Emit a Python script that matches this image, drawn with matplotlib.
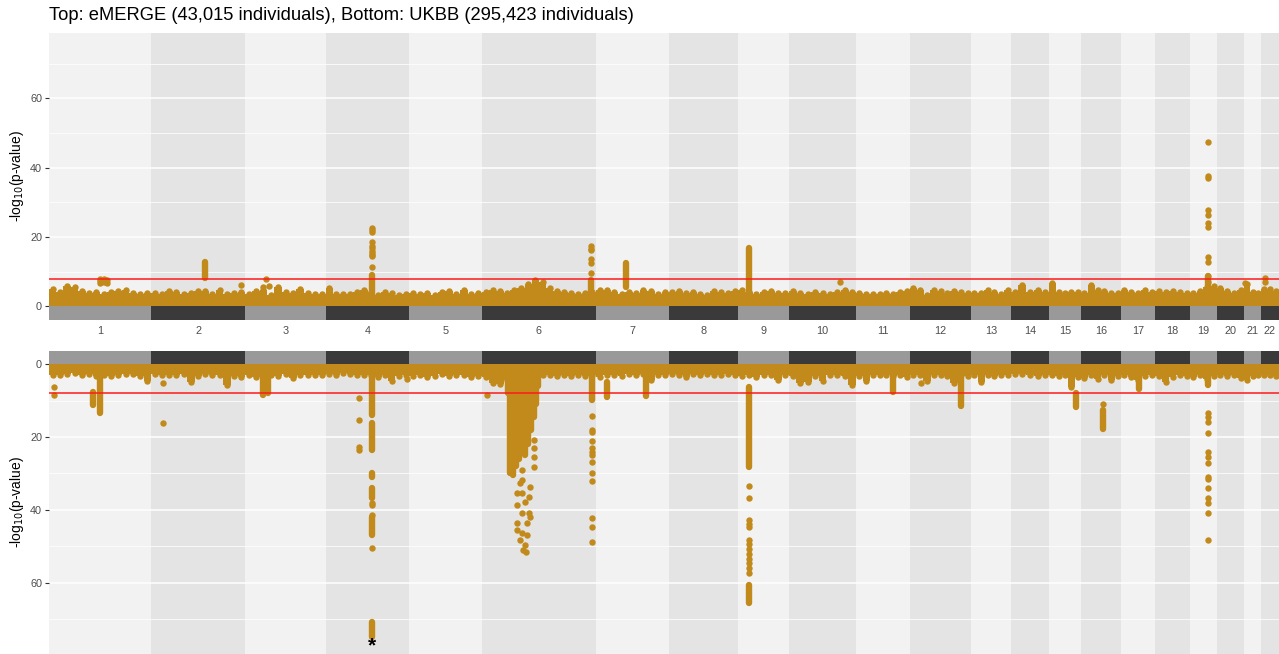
import numpy as np
import matplotlib.pyplot as plt

plt.rcParams['font.family'] = ['Liberation Sans', 'DejaVu Sans']

GOLD = '#C18A1B'
DOT = 4.6          # marker diameter in points
THRESH = 8

chroms = [str(i) for i in range(1, 23)]
# plotted width of each chromosome (number of variants, thousands)
chrom_size = [102, 94, 81, 83, 73, 114, 73, 69, 51, 67, 54, 61,
              40, 38, 32, 40, 34, 35, 27, 27, 17, 18]

# upper edge of the dense background of variants, sampled along each chromosome
emerge_floor = [
    [5.0, 4.0, 5.8, 5.6, 4.5, 3.8, 4.2, 3.6, 4.0, 4.4, 4.6, 3.9, 3.6, 3.8],
    [3.8, 3.6, 4.3, 4.2, 3.5, 3.8, 4.4, 4.3, 3.6, 4.8, 3.6, 3.8, 4.1],
    [3.6, 4.3, 4.8, 3.4, 5.5, 4.2, 3.8, 5.0, 3.9, 3.7, 3.5],
    [5.2, 3.7, 3.6, 3.7, 4.2, 4.6, 4.0, 3.2, 4.2, 3.8, 3.4, 3.6],
    [3.9, 3.6, 3.8, 3.4, 4.0, 4.3, 3.5, 4.6, 3.6, 3.8],
    [4.2, 4.8, 4.4, 3.9, 4.6, 5.2, 6.4, 7.6, 7.0, 5.4, 4.3, 4.1, 3.8, 3.6, 3.8, 4.0],
    [4.6, 4.8, 4.0, 3.6, 4.2, 3.8, 4.6, 4.3, 3.7, 4.0],
    [4.0, 4.3, 3.8, 4.1, 3.6, 3.4, 4.3, 4.0, 3.8, 4.4],
    [4.6, 4.2, 3.6, 4.2, 4.4, 3.8, 3.9],
    [4.3, 3.8, 3.6, 4.2, 3.9, 3.7, 4.0, 4.6, 4.1],
    [3.9, 3.6, 3.7, 3.5, 3.8, 3.6, 4.0, 4.4],
    [5.2, 4.6, 3.4, 4.8, 4.3, 3.9, 4.5, 4.0, 3.8],
    [3.8, 3.9, 4.8, 4.2, 3.7, 4.6],
    [4.2, 6.2, 4.0, 4.8, 4.0],
    [6.6, 4.2, 3.8, 4.0, 4.1],
    [3.9, 6.1, 4.6, 4.3, 3.9, 3.8],
    [4.7, 4.2, 3.8, 4.6, 4.0],
    [4.3, 4.1, 4.5, 4.0, 3.9],
    [3.9, 4.3, 5.5, 5.8],
    [5.4, 4.4, 3.9, 4.6],
    [6.5, 4.1, 3.8],
    [4.9, 5.0, 4.4],
]

ukbb_floor = [
    [3.0, 2.8, 2.6, 2.4, 2.9, 2.7, 3.2, 2.9, 3.3, 2.8, 2.6, 2.7, 3.1, 4.5],
    [2.6, 2.9, 3.0, 2.8, 2.7, 4.8, 3.2, 2.7, 3.0, 2.8, 5.6, 3.1, 3.4],
    [3.0, 3.4, 4.0, 2.8, 3.2, 2.7, 3.8, 2.9, 2.8, 3.0, 2.9],
    [2.6, 2.8, 2.5, 2.7, 2.9, 3.0, 2.8, 3.4, 3.0, 4.6, 3.2, 2.9],
    [3.2, 2.8, 3.4, 3.3, 2.7, 3.1, 2.8, 3.0, 3.6, 3.1],
    [3.6, 5.0, 5.4, 4.2, 6.0, 6.0, 6.0, 6.0, 3.0, 2.8, 3.2, 2.9, 3.1, 2.8, 3.3, 3.0],
    [3.6, 3.0, 2.8, 3.1, 2.6, 3.0, 2.7, 4.3, 3.0, 2.8],
    [2.6, 2.8, 3.6, 2.7, 2.9, 2.6, 2.8, 3.0, 2.7, 2.9],
    [3.2, 3.0, 3.4, 2.9, 2.8, 4.2, 3.0],
    [3.1, 5.1, 4.9, 3.2, 4.5, 3.0, 2.8, 3.3, 5.7],
    [3.2, 4.6, 2.9, 3.0, 2.8, 3.2, 3.0, 3.4],
    [2.8, 3.0, 4.5, 2.8, 3.0, 3.1, 5.2, 2.9, 3.2],
    [3.0, 4.8, 2.9, 3.1, 2.8, 2.9],
    [2.7, 2.6, 2.9, 3.2, 2.9],
    [3.0, 3.3, 2.9, 6.1, 3.5],
    [3.8, 3.0, 4.0, 3.0, 4.2, 3.2],
    [3.0, 3.6, 4.2, 3.2, 3.0],
    [3.2, 4.8, 3.6, 3.0, 3.3],
    [3.5, 2.9, 4.0, 3.1],
    [3.0, 3.2, 2.9, 3.8],
    [4.2, 3.3, 3.0],
    [2.9, 3.0, 3.1],
]

# (chromosome, offset, lowest, highest) -- runs of adjacent significant variants
emerge_runs = [
    (2, 54, 8.3, 12.9),
    (4, 46, 0, 9.0),
    (6, 109, 0, 7.6),
    (7, 30, 5.5, 12.4),
    (9, 11, 0, 16.7),
    (19, 18, 0, 8.7),
]
# (chromosome, offset, [-log10 p of single variants])
emerge_hits = [
    (1, 51, [7.9, 7.4, 6.6]),
    (1, 55, [7.8, 7.0]),
    (1, 58, [7.6, 6.8]),
    (2, 90, [6.3]),
    (3, 18, [5.5]),
    (3, 21, [8.0]),
    (3, 24, [5.8]),
    (4, 46, [22.6, 22.1, 21.5, 18.6, 17.5, 16.7, 16.0, 15.5, 14.9, 14.5, 11.4]),
    (6, 109, [17.3, 16.6, 16.2, 13.6, 12.5, 9.7]),
    (10, 51, [6.9]),
    (19, 18, [47.5, 37.6, 37.0, 27.8, 26.3, 24.0, 23.0, 14.3, 12.9, 8.7, 7.1]),
    (21, 1, [6.8]),
    (22, 4, [8.1, 7.1]),
]

ukbb_runs = [
    (1, 44, 7.5, 11.2),
    (1, 51, 0, 13.5),
    (3, 18, 0, 8.4),
    (3, 23, 0, 8.0),
    (4, 46, 0, 13.9),
    (4, 46, 16.1, 23.5),
    (4, 46, 29.9, 31.0),
    (4, 46, 34.0, 36.8),
    (4, 46, 42.0, 46.9),
    (4, 46, 70.7, 74.8),
    # HLA region
    (6, 26, 0, 8.0),
    (6, 28, 0, 30.0),
    (6, 31, 0, 30.5),
    (6, 34, 0, 28.0),
    (6, 37, 0, 26.0),
    (6, 40, 0, 24.0),
    (6, 43, 0, 25.0),
    (6, 46, 0, 22.0),
    (6, 49, 0, 18.0),
    (6, 52, 0, 14.4),
    (6, 54, 0, 11.0),
    (6, 56, 0, 6.0),
    (6, 109.7, 0, 9.8),
    (7, 10.7, 4.8, 8.9),
    (7, 49.7, 0, 8.7),
    (9, 11, 6.1, 28.1),
    (9, 11, 60.6, 65.7),
    (11, 36.7, 0, 7.5),
    (12, 51, 0, 11.5),
    (15, 27, 7.8, 11.6),
    (16, 22.3, 12.5, 17.9),
    (17, 18.3, 0, 6.9),
    (19, 18.3, 0, 5.7),
]
ukbb_hits = [
    (1, 5, [6.3, 8.4]),
    (2, 11.7, [5.0, 16.0]),
    (4, 33, [9.2, 15.4, 22.6, 23.5]),
    (4, 46, [38.2, 38.7, 41.4, 50.6]),
    (4, 81, [4.1]),
    (6, 4.7, [8.4]),
    (6, 39.7, [29.0, 31.8, 35.4, 40.9, 46.4]),
    (6, 38, [32.7, 48.3]),
    (6, 34.7, [35.4, 38.7, 43.7, 45.5]),
    (6, 43, [37.7, 49.6]),
    (6, 41.3, [51.0]),
    (6, 44, [51.5]),
    (6, 44.7, [43.7, 46.9]),
    (6, 47.3, [40.9, 36.4]),
    (6, 48, [33.6, 41.9]),
    (6, 52, [20.8, 23.1, 25.4, 28.1]),
    (6, 109.7, [14.2, 18.0, 18.5, 21.0, 23.1, 24.0, 24.9, 26.8, 29.8, 32.0,
                42.3, 44.6, 48.9]),
    (9, 11, [33.4, 36.8, 42.8, 43.8, 44.6, 48.3, 49.5, 50.8, 52.2, 53.5,
             54.7, 56.0, 57.4]),
    (12, 11, [5.0]),
    (16, 22.3, [10.9]),
    (19, 18.3, [13.5, 14.4, 15.8, 18.8, 24.0, 25.4, 27.2, 30.9, 31.6, 34.1,
                36.8, 38.2, 40.8, 48.3]),
]
# chr4 lead signal is off the scale
ukbb_capped = [(4, 46, 77.3)]

starts = np.concatenate([[0], np.cumsum(chrom_size)[:-1]])
centers = starts + np.array(chrom_size) / 2
total = float(np.sum(chrom_size))


def draw_panel(ax, floor, runs, hits, ylim, bar_h):
    for i, w in enumerate(chrom_size):
        ax.axvspan(starts[i], starts[i] + w, color='#F2F2F2' if i % 2 == 0 else '#E4E4E4',
                   lw=0, zorder=0)
    for y in [0, 20, 40, 60]:
        ax.axhline(y, color='white', lw=1.1, zorder=1)
    for y in [10, 30, 50, 70]:
        ax.axhline(y, color='white', lw=0.55, zorder=1)

    for i, vals in enumerate(floor):
        n = len(vals)
        w = chrom_size[i] / n
        xs = starts[i] + (np.arange(n) + 0.5) * w
        ax.bar(xs, vals, width=w * 1.05, color=GOLD, lw=0, zorder=3)
        ax.scatter(xs, vals, s=DOT ** 2, color=GOLD, lw=0, zorder=3)

    for c, off, lo, hi in runs:
        x = starts[c - 1] + off
        ax.plot([x, x], [lo, hi], color=GOLD, lw=DOT, solid_capstyle='round', zorder=3)
    for c, off, vals in hits:
        x = starts[c - 1] + off
        ax.scatter([x] * len(vals), vals, s=DOT ** 2, color=GOLD, lw=0, zorder=3)

    ax.axhline(THRESH, color='#FF1A1A', lw=1.1, zorder=4)

    ax.bar(centers, -bar_h, width=chrom_size, bottom=0,
           color=['#999999' if i % 2 == 0 else '#3A3A3A' for i in range(len(chroms))],
           lw=0, zorder=5)

    ax.set_xlim(0, total)
    ax.set_ylim(*ylim)
    ax.set_yticks([0, 20, 40, 60])
    ax.tick_params(axis='y', length=3, width=0.8, color='#333333', labelsize=7.8,
                   labelcolor='#4D4D4D', pad=2)
    for s in ax.spines.values():
        s.set_visible(False)
    ax.set_ylabel('-log$_{10}$(p-value)', fontsize=10, color='black', labelpad=3)


fig = plt.figure(figsize=(12.79, 6.54), dpi=100)
W, H = 1279.0, 654.0

ax_top = fig.add_axes([49 / W, 1 - 319.5 / H, 1 - 49 / W, (319.5 - 33) / H])
draw_panel(ax_top, emerge_floor, emerge_runs, emerge_hits, (-3.8, 78.9), 3.8)
ax_top.set_xticks(centers)
ax_top.set_xticklabels(chroms)
ax_top.tick_params(axis='x', length=0, labelsize=7.8, labelcolor='#4D4D4D', pad=5)

ax_bot = fig.add_axes([49 / W, 0, 1 - 49 / W, (654 - 350.7) / H])
draw_panel(ax_bot, ukbb_floor, ukbb_runs, ukbb_hits, (79.6, -3.74), 3.74)
ax_bot.set_xticks([])
for c, off, y in ukbb_capped:
    ax_bot.text(starts[c - 1] + off, y, '*', ha='center', va='center',
                fontsize=15, fontweight='bold', color='black', zorder=6)

fig.text(49 / W, 1 - 15 / H, 'Top: eMERGE (43,015 individuals), Bottom: UKBB (295,423 individuals)',
         ha='left', va='center', fontsize=13.2, color='black')

fig.savefig('out.png', dpi=100)
